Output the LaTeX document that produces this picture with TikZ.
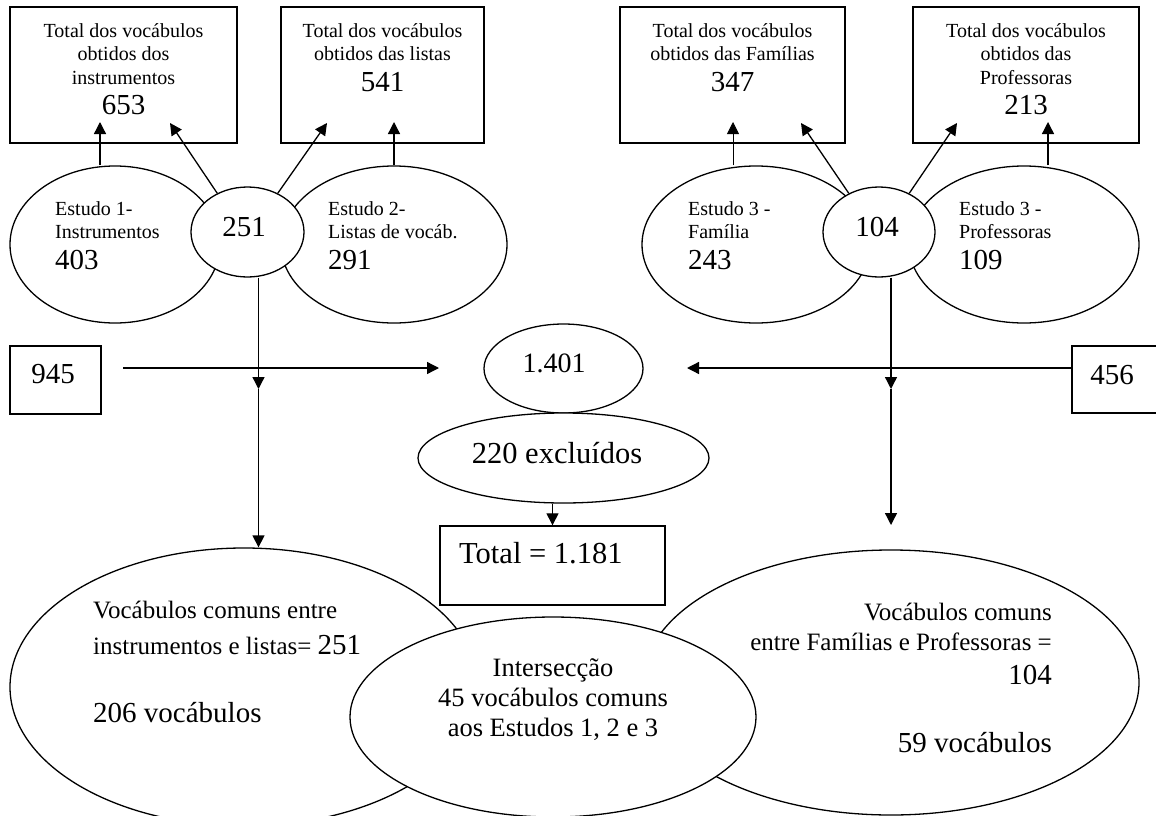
\documentclass[tikz,border=0pt]{standalone}
\usepackage{fontspec}
\setmainfont{Liberation Serif}
\usetikzlibrary{shapes.geometric,arrows.meta,positioning}
\newcommand{\fpeq}{\fontsize{20}{23.5}\selectfont}
\newcommand{\fmed}{\fontsize{25}{30}\selectfont}
\newcommand{\fgrd}{\fontsize{29}{30}\selectfont}
\begin{document}
\begin{tikzpicture}[x=1pt, y=-1pt, >={Triangle[length=12pt,width=12pt]},
  caixa/.style={draw, line width=1.4pt, fill=white, inner sep=0pt},
  elipse/.style={draw, ellipse, line width=1.3pt, inner sep=0pt},
  seta/.style={->, line width=1.3pt},
  txt/.style={font=\fpeq, align=center, inner sep=0pt},
  num/.style={font=\fgrd, inner sep=0pt}]
\useasboundingbox (0,0) rectangle (1156,816);
\clip (0,0) rectangle (1156,816);
% caixas de cima
\foreach \nome/\cx/\lw in {b1/123.5/227, b2/382.5/203, b3/732.5/225, b4/1026/226}
  \node[caixa, minimum width=\lw pt, minimum height=136pt] (\nome) at (\cx,75) {};
\node[txt] (t1) at (123.5,54) {Total dos vocábulos\\obtidos dos\\instrumentos};
\node[num] (n1) at (123.5,105) {653};
\node[txt] (t2) at (382.5,42) {Total dos vocábulos\\obtidos das listas};
\node[num] (n2) at (382.5,82) {541};
\node[txt] (t3) at (732.5,42) {Total dos vocábulos\\obtidos das Famílias};
\node[num] (n3) at (732.5,82) {347};
\node[txt] (t4) at (1026,54) {Total dos vocábulos\\obtidos das\\Professoras};
\node[num] (n4) at (1026,105) {213};

% estudos
\node[elipse, minimum width=210pt, minimum height=157pt] (e1) at (115,244.5) {};
\node[elipse, minimum width=226pt, minimum height=157pt] (e2) at (394,244.5) {};
\node[elipse, fill=white, minimum width=113pt, minimum height=90pt] (s1) at (247.5,232) {};
\node[elipse, minimum width=228pt, minimum height=157pt] (e3) at (756,244.5) {};
\node[elipse, minimum width=230pt, minimum height=157pt] (e4) at (1024,244.5) {};
\node[elipse, fill=white, minimum width=112pt, minimum height=90pt] (s2) at (879,232) {};
\node[txt, align=left, anchor=west] (te1) at (55,220) {Estudo 1-\\Instrumentos};
\node[num, anchor=west] (ne1) at (55,260) {403};
\node[txt, align=left, anchor=west] (te2) at (328,220) {Estudo 2-\\Listas de vocáb.};
\node[num, anchor=west] (ne2) at (328,260) {291};
\node[txt, align=left, anchor=west] (te3) at (688,220) {Estudo 3 -\\Família};
\node[num, anchor=west] (ne3) at (688,260) {243};
\node[txt, align=left, anchor=west] (te4) at (959,220) {Estudo 3 -\\Professoras};
\node[num, anchor=west] (ne4) at (959,260) {109};
\node[num] (ns1) at (244,227) {251};
\node[num] (ns2) at (877,227) {104};

% pontas das setas de cima
\coordinate (p1) at (100,122);  \coordinate (p2) at (170,123);
\coordinate (p3) at (327,123);  \coordinate (p4) at (394,122);
\coordinate (p5) at (733,122);  \coordinate (p6) at (801,123);
\coordinate (p7) at (957,123);  \coordinate (p8) at (1048,122);
\draw[seta] (p1 |- e1.north) -- (p1);
\draw[seta] (s1.128) -- (p2);
\draw[seta] (s1.52) -- (p3);
\draw[seta] (e2.north) -- (p4);
\draw[->, line width=0.8pt] (p5 |- e3.north) -- (p5);
\draw[seta] (s2.128) -- (p6);
\draw[seta] (s2.52) -- (p7);
\draw[seta] (p8 |- e4.north) -- (p8);

% meio
\node[caixa, minimum width=91pt, minimum height=68pt] (b945) at (55.5,380) {};
\node[num] (t945) at (53,374) {945};
\node[caixa, minimum width=88pt, minimum height=67pt] (b456) at (1116,379.5) {};
\node[num] (t456) at (1112,375) {456};
\node[elipse, minimum width=159pt, minimum height=89pt] (e1401) at (563.5,368.5) {};
\node[num, font=\fontsize{28}{30}\selectfont] (t1401) at (554,363) {1.401};
\node[elipse, fill=white, minimum width=291pt, minimum height=90pt] (e220) at (563.5,458) {};
\node[num, font=\fontsize{30.5}{32}\selectfont] (t220) at (557,453) {220 excluídos};

\coordinate (h1) at (123,368);  \coordinate (h1e) at (439,368);
\coordinate (h2) at (687,368);
\coordinate (v1) at (258.5,389); \coordinate (v2) at (891,389);
\coordinate (v2e) at (891,525);
\draw[seta] (h1) -- (h1e);
\draw[seta] (b456.west |- h2) -- (h2);

% de baixo
\node[elipse, minimum width=468pt, minimum height=278pt] (e5) at (244,687) {};
\node[elipse, minimum width=496pt, minimum height=265pt] (e6) at (891,682.5) {};
\node[caixa, minimum width=225pt, minimum height=79pt] (tot) at (552.5,565.5) {};
\node[num, font=\fontsize{30.5}{32}\selectfont, anchor=west] (ttot) at (459,553) {Total = 1.181};
\node[elipse, fill=white, minimum width=406pt, minimum height=200pt] (e7) at (553,717) {};

\draw[seta] (tot.north |- e220.south) -- (tot.north);
\draw[seta] (v1 |- s1.south) -- (v1);
\draw[seta] (v1) -- (v1 |- e5.north);
\draw[seta] (v2 |- s2.south) -- (v2);
\draw[seta] (v2) -- (v2e);

\node[font=\fmed, inner sep=0pt, anchor=west] (l5a) at (93,610) {Vocábulos comuns entre};
\node[font=\fmed, inner sep=0pt, anchor=west] (l5b) at (93,645) {instrumentos e listas= {\fgrd 251}};
\node[num, anchor=west] (l5c) at (93,713) {206 vocábulos};
\node[font=\fmed, inner sep=0pt, align=right, anchor=east] (l6a) at (1052,627) {Vocábulos comuns\\entre Famílias e Professoras =};
\node[num, anchor=east] (l6b) at (1052,675) {104};
\node[num, anchor=east] (l6c) at (1052,743) {59 vocábulos};
\node[font=\fontsize{26.5}{30}\selectfont, inner sep=0pt, align=center] (l7) at (553,700) {Intersecção\\45 vocábulos comuns\\aos Estudos 1, 2 e 3};
\end{tikzpicture}
\end{document}
